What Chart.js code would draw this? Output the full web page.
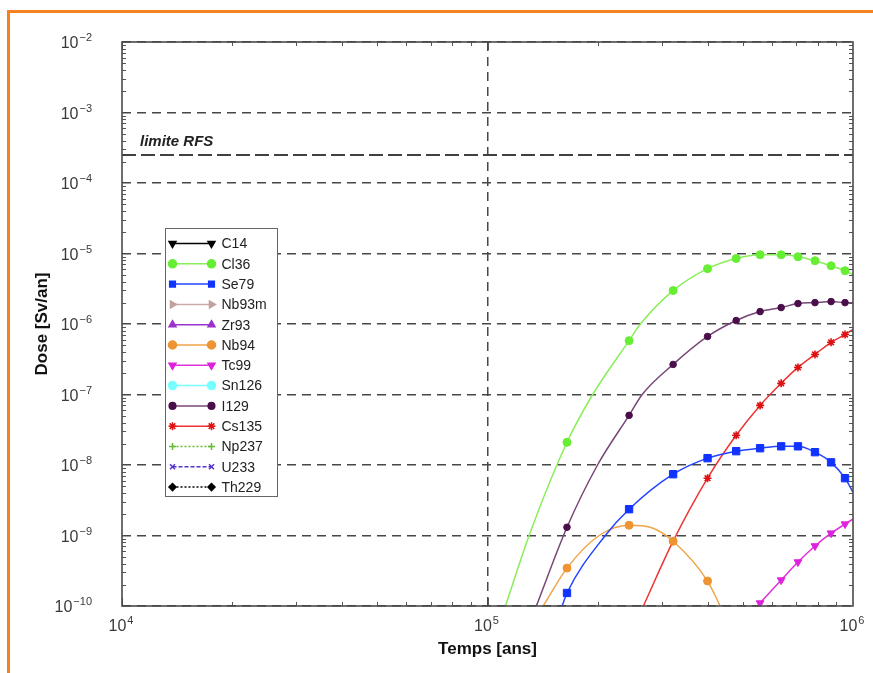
<!DOCTYPE html>
<html>
<head>
<meta charset="utf-8">
<script src="https://cdn.jsdelivr.net/npm/chart.js@4.4.1/dist/chart.umd.min.js"></script>
<style>
    html, body { margin: 0; padding: 0; background: #fff; }
    #wrap { position: relative; width: 873px; height: 673px; overflow: hidden; }
    #doseChart { position: absolute; left: 0; top: 0; }
    #frame { position: absolute; left: 7px; top: 10px; right: -10px; bottom: -10px; border-left: 3px solid #f58220; border-top: 3px solid #f58220; pointer-events: none; }
</style>
</head>
<body>
<div id="wrap">
    <canvas id="doseChart" width="873" height="673"></canvas>
    <div id="frame"></div>
</div>
<script>
// --- Data ---
// times (years) where markers are drawn
const markerTimes = [1.65e5, 2.44e5, 3.22e5, 4.0e5, 4.79e5, 5.57e5, 6.36e5, 7.07e5, 7.87e5, 8.71e5, 9.51e5];

// dose (Sv/an) at each marker time, null = below 1e-10
const cl36Markers = [2.1e-8, 5.8e-7, 2.98e-6, 6.1e-6, 8.5e-6, 9.6e-6, 9.6e-6, 9.0e-6, 7.9e-6, 6.7e-6, 5.7e-6];
const se79Markers = [1.53e-10, 2.36e-9, 7.4e-9, 1.25e-8, 1.57e-8, 1.73e-8, 1.84e-8, 1.84e-8, 1.52e-8, 1.09e-8, 6.5e-9];
const nb94Markers = [3.45e-10, 1.40e-9, 8.3e-10, 2.26e-10, null, null, null, null, null, null, null];
const tc99Markers = [null, null, null, null, null, 1.1e-10, 2.33e-10, 4.2e-10, 7.1e-10, 1.08e-9, 1.45e-9];
const i129Markers = [1.31e-9, 5.06e-8, 2.67e-7, 6.65e-7, 1.12e-6, 1.50e-6, 1.71e-6, 1.95e-6, 2.01e-6, 2.08e-6, 2.01e-6];
const cs135Markers = [null, null, 8.3e-10, 6.5e-9, 2.64e-8, 7.0e-8, 1.44e-7, 2.42e-7, 3.7e-7, 5.5e-7, 7.1e-7];

// extra points on the curves, no marker: [time, dose]
const cl36Curve = [[1.12e5, 1e-10], [1.30e5, 1e-9], [1.94e5, 1e-7], [2.62e5, 1e-6], [1e6, 5.0e-6]];
const se79Curve = [[1.60e5, 1e-10], [2.10e5, 1e-9], [1e6, 4.1e-9]];
const nb94Curve = [[1.42e5, 1e-10], [2.02e5, 1e-9], [2.8e5, 1.3e-9], [4.33e5, 1e-10]];
const tc99Curve = [[5.48e5, 1e-10], [1e6, 1.71e-9]];
const i129Curve = [[1.36e5, 1e-10], [2.0e5, 1e-8], [2.65e5, 1e-7], [1e6, 2.0e-6]];
const cs135Curve = [[2.67e5, 1e-10], [1e6, 8.4e-7]];

const nuclides = ['C14', 'Cl36', 'Se79', 'Nb93m', 'Zr93', 'Nb94', 'Tc99', 'Sn126', 'I129', 'Cs135', 'Np237', 'U233', 'Th229'];
const rfsLimit = 2.5e-4;
const timeRange = [1e4, 1e6];
const doseRange = [1e-10, 1e-2];

// --- Styles ---
const FONT = "'Liberation Sans', Arial, 'DejaVu Sans', sans-serif";
const GRID = '#474747';
const styles = {
    'C14':   { line: '#000000', mark: '#000000', shape: 'triangle', rot: 180, r: 4 },
    'Cl36':  { line: '#8aee5a', mark: '#66ee33', shape: 'circle', rot: 0, r: 4 },
    'Se79':  { line: '#2244ff', mark: '#1133ff', shape: 'rect', rot: 0, r: 5.2 },
    'Nb93m': { line: '#c9a9a9', mark: '#c0a0a0', shape: 'triangle', rot: 90, r: 4 },
    'Zr93':  { line: '#9933cc', mark: '#9933cc', shape: 'triangle', rot: 0, r: 4 },
    'Nb94':  { line: '#f0a448', mark: '#ee9433', shape: 'circle', rot: 0, r: 4 },
    'Tc99':  { line: '#e030d8', mark: '#dd22dd', shape: 'triangle', rot: 180, r: 4.5 },
    'Sn126': { line: '#77ffff', mark: '#77ffff', shape: 'circle', rot: 0, r: 4 },
    'I129':  { line: '#774777', mark: '#4a0f4a', shape: 'circle', rot: 0, r: 3.3 },
    'Cs135': { line: '#ee3333', mark: '#dd1111', shape: 'star', rot: 0, r: 4 },
    'Np237': { line: '#66bb33', mark: '#66bb33', shape: 'cross', rot: 0, r: 3.5, dash: [2, 2] },
    'U233':  { line: '#5533cc', mark: '#5533cc', shape: 'crossRot', rot: 0, r: 3.5, dash: [4, 2] },
    'Th229': { line: '#000000', mark: '#000000', shape: 'rectRot', rot: 0, r: 3.5, dash: [2, 2] },
};

const seriesData = {
    'Cl36': [cl36Markers, cl36Curve],
    'Se79': [se79Markers, se79Curve],
    'Nb94': [nb94Markers, nb94Curve],
    'Tc99': [tc99Markers, tc99Curve],
    'I129': [i129Markers, i129Curve],
    'Cs135': [cs135Markers, cs135Curve],
};

const buildPoints = (name) => {
    if (!seriesData[name]) return [];
    const [markers, curve] = seriesData[name];
    const pts = [];
    markers.forEach((v, i) => { if (v !== null) pts.push({ x: markerTimes[i], y: v, m: true }); });
    curve.forEach(([t, v]) => pts.push({ x: t, y: v, m: false }));
    return pts.sort((a, b) => a.x - b.x);
};

const isDecade = v => {
    const l = Math.log10(v);
    return Math.abs(l - Math.round(l)) < 1e-6;
};
const expText = v => String(Math.round(Math.log10(v))).replace('-', '\u2212');

const datasets = nuclides.map(name => {
    const s = styles[name];
    return {
        label: name,
        data: buildPoints(name),
        borderColor: s.line,
        borderWidth: 1.5,
        borderDash: s.dash || [],
        pointStyle: s.shape,
        rotation: s.rot,
        pointBackgroundColor: s.mark,
        pointBorderColor: s.mark,
        pointBorderWidth: s.shape === 'star' ? 1.6 : 1,
        pointRadius: ctx => (ctx.raw && ctx.raw.m ? s.r : 0),
        cubicInterpolationMode: 'monotone',
        fill: false,
    };
});

datasets.push({
    label: 'limite RFS',
    data: timeRange.map(t => ({ x: t, y: rfsLimit })),
    borderColor: '#404040',
    borderWidth: 2,
    borderDash: [14, 5],
    pointRadius: 0,
    fill: false,
});

// "10" with a raised exponent; align: 'right' or 'center'
const drawPow = (ctx, v, x, y, align) => {
    const exp = expText(v);
    ctx.font = `16px ${FONT}`;
    const wb = ctx.measureText('10').width;
    ctx.font = `11px ${FONT}`;
    const we = ctx.measureText(exp).width;
    const total = wb + 1 + we;
    const x0 = align === 'right' ? x - total : x - total / 2;
    ctx.textAlign = 'left';
    ctx.textBaseline = 'alphabetic';
    ctx.font = `16px ${FONT}`;
    ctx.fillText('10', x0, y + 6);
    ctx.font = `11px ${FONT}`;
    ctx.fillText(exp, x0 + wb + 1, y - 1);
};

// frame, minor ticks, tick labels, legend, RFS caption
const decorPlugin = {
    id: 'decor',
    afterDatasetsDraw(chart) {
        const { ctx, chartArea: a, scales: { x, y } } = chart;
        ctx.save();
        ctx.strokeStyle = '#555';
        ctx.lineWidth = 1;
        ctx.beginPath();
        const yE0 = Math.round(Math.log10(doseRange[0])), yE1 = Math.round(Math.log10(doseRange[1]));
        for (let e = yE0; e < yE1; e++) {
            for (let k = 2; k < 10; k++) {
                const py = Math.round(y.getPixelForValue(k * Math.pow(10, e))) + 0.5;
                ctx.moveTo(a.left, py); ctx.lineTo(a.left + 4, py);
                ctx.moveTo(a.right, py); ctx.lineTo(a.right - 4, py);
            }
        }
        const xE0 = Math.round(Math.log10(timeRange[0])), xE1 = Math.round(Math.log10(timeRange[1]));
        for (let e = xE0; e < xE1; e++) {
            for (let k = 1; k < 10; k++) {
                const len = k === 1 ? 8 : 4;
                const px = Math.round(x.getPixelForValue(k * Math.pow(10, e))) + 0.5;
                ctx.moveTo(px, a.bottom); ctx.lineTo(px, a.bottom - len);
                ctx.moveTo(px, a.top); ctx.lineTo(px, a.top + len);
            }
        }
        ctx.stroke();

        ctx.strokeStyle = '#4a4a4a';
        ctx.lineWidth = 1.6;
        ctx.strokeRect(a.left, a.top, a.right - a.left, a.bottom - a.top);

        // tick labels
        ctx.fillStyle = '#3a3a3a';
        y.ticks.filter(t => isDecade(t.value)).forEach(t => drawPow(ctx, t.value, a.left - 30, y.getPixelForValue(t.value), 'right'));
        x.ticks.filter(t => isDecade(t.value)).forEach(t => drawPow(ctx, t.value, x.getPixelForValue(t.value) - 1, a.bottom + 19, 'center'));

        // RFS caption
        ctx.fillStyle = '#222';
        ctx.font = `italic bold 15px ${FONT}`;
        ctx.textBaseline = 'middle';
        ctx.textAlign = 'left';
        ctx.fillText('limite RFS', a.left + 18, y.getPixelForValue(rfsLimit) - 13);

        // legend box
        const lx = a.left + 43.5, ly = 228.5, lw = 112, lh = 268;
        ctx.fillStyle = '#fff';
        ctx.fillRect(lx, ly, lw, lh);
        ctx.strokeStyle = '#666';
        ctx.lineWidth = 1;
        ctx.strokeRect(lx, ly, lw, lh);
        ctx.font = `14px ${FONT}`;
        nuclides.forEach((name, i) => {
            const s = styles[name];
            const ey = ly + 15 + i * 20.3;
            const x0 = lx + 7, x1 = lx + 46;
            ctx.strokeStyle = s.line;
            ctx.lineWidth = 1.5;
            ctx.setLineDash(s.dash || []);
            ctx.beginPath();
            ctx.moveTo(x0, ey); ctx.lineTo(x1, ey);
            ctx.stroke();
            ctx.setLineDash([]);
            ctx.fillStyle = s.mark;
            ctx.strokeStyle = s.mark;
            const opts = { pointStyle: s.shape, rotation: s.rot, radius: Math.min(s.r, 4), borderWidth: 1 };
            Chart.helpers.drawPoint(ctx, opts, x0, ey);
            Chart.helpers.drawPoint(ctx, opts, x1, ey);
            ctx.fillStyle = '#222';
            ctx.textBaseline = 'middle';
            ctx.fillText(name, lx + 56, ey + 1);
        });
        ctx.restore();
    }
};

const ctx = document.getElementById('doseChart').getContext('2d');
window.doseChart = new Chart(ctx, {
    type: 'line',
    data: { datasets },
    plugins: [decorPlugin],
    options: {
        responsive: false,
        animation: false,
        events: [],
        devicePixelRatio: 1,
        layout: { padding: { left: 0, top: 42, right: 20, bottom: 0 } },
        plugins: { legend: { display: false }, tooltip: { enabled: false } },
        scales: {
            x: {
                type: 'logarithmic',
                min: timeRange[0],
                max: timeRange[1],
                afterFit: s => { s.height = 67; },
                border: { display: false, dash: [9, 6] },
                grid: {
                    color: c => (c.tick && Math.abs(Math.log10(c.tick.value) - 5) < 1e-6 ? GRID : 'rgba(0,0,0,0)'),
                    lineWidth: 1.5,
                    drawTicks: false,
                },
                ticks: { display: false, autoSkip: false },
                title: {
                    display: true,
                    text: 'Temps [ans]',
                    color: '#111',
                    font: { size: 17, weight: 'bold', family: FONT },
                    padding: { top: 0, bottom: 13 },
                },
            },
            y: {
                type: 'logarithmic',
                min: doseRange[0],
                max: doseRange[1],
                afterFit: s => { s.width = 122; },
                border: { display: false, dash: [9, 6] },
                grid: {
                    color: c => (c.tick && isDecade(c.tick.value) ? GRID : 'rgba(0,0,0,0)'),
                    lineWidth: 1.5,
                    drawTicks: false,
                },
                ticks: { display: false, autoSkip: false },
                title: {
                    display: true,
                    text: 'Dose [Sv/an]',
                    color: '#111',
                    font: { size: 17, weight: 'bold', family: FONT },
                    padding: { top: 32, bottom: 0 },
                },
            },
        },
    },
});
</script>
</body>
</html>
